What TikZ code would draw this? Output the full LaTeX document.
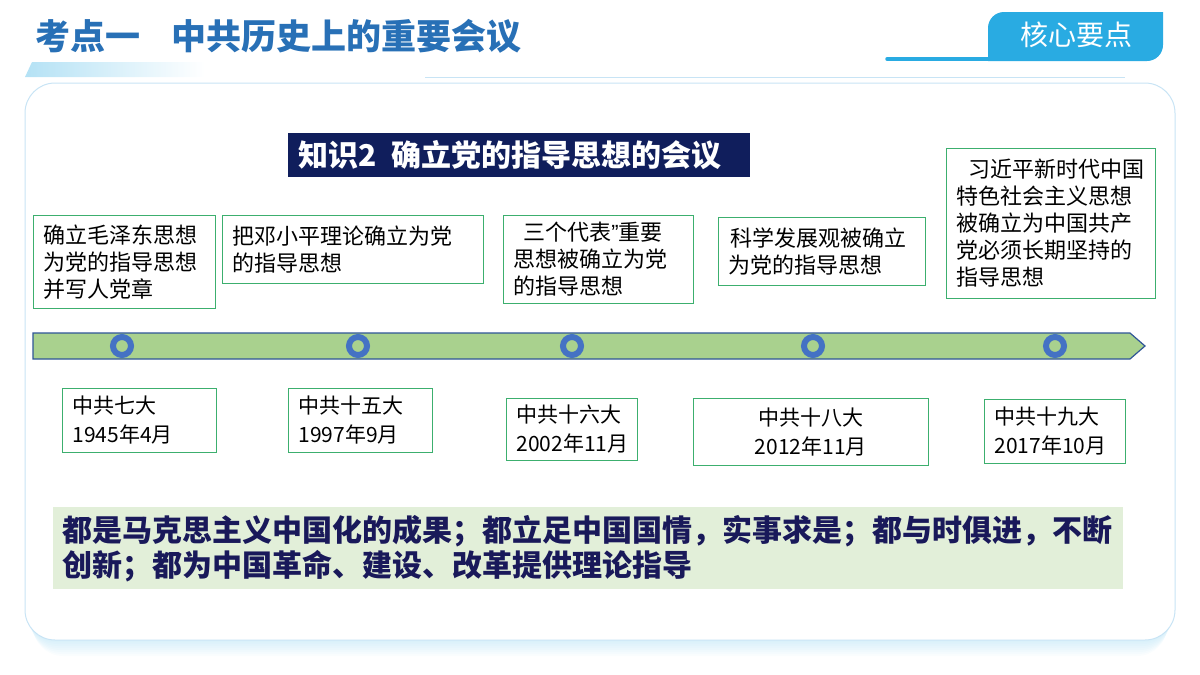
\documentclass[tikz,border=0pt]{standalone}
\usepackage{fontspec}
\newfontfamily\cjk{Noto Sans CJK SC}
\newfontfamily\latin{Liberation Sans}
\usepackage{tikz}
\usetikzlibrary{calc}

\definecolor{titleblue}{RGB}{40,112,182}
\definecolor{tabblue}{RGB}{41,171,226}
\definecolor{navy}{RGB}{16,30,92}
\definecolor{boxgreen}{RGB}{60,175,110}
\definecolor{tlgreen}{RGB}{169,209,142}
\definecolor{tlborder}{RGB}{47,85,151}
\definecolor{ringblue}{RGB}{68,114,196}
\definecolor{sumfill}{RGB}{226,239,217}
\definecolor{sumtext}{RGB}{25,25,90}
\definecolor{panelline}{RGB}{200,228,245}

\begin{document}
\begin{tikzpicture}[x=1pt,y=-1pt,
  upbox/.style={draw=boxgreen, line width=0.8pt, anchor=north west, align=left,
    inner xsep=10pt, inner ysep=0pt, font=\cjk\fontsize{22}{27}\selectfont},
  datebox/.style={draw=boxgreen, line width=0.8pt, anchor=north west,
    inner xsep=10pt, inner ysep=0pt, font=\cjk\fontsize{21}{29}\selectfont},
  ring/.style={circle, draw=ringblue, line width=6pt, fill=tlgreen,
    minimum size=18pt, inner sep=0pt}]
\useasboundingbox (0,0) rectangle (1200,675);

%%% HEADER
\node[anchor=west, text=titleblue, font=\cjk\bfseries\fontsize{35}{35}\selectfont]
  (title) at (32,36) {考点一\hspace{0.9em}中共历史上的重要会议};
\shade[left color=tabblue!35, right color=white]
  (32,62) -- (205,62) -- (205,77) -- (25,77) -- cycle;
\draw[panelline, line width=1pt] (425,77) -- (1125,77);

% tab at top right
\draw[tabblue, line width=3.5pt, line cap=round] (887,59) -- (995,59);
\fill[tabblue] (988,61) -- (988,28) arc (180:270:16) -- (1163,12)
  -- (1163,45) arc (0:90:16) -- cycle;
\node[text=white, font=\cjk\fontsize{28}{28}\selectfont] (tab) at (1076,35) {核心要点};

%%% PANEL
% soft shadow under the panel
\foreach \k in {1,...,8}
  \fill[tabblue, opacity=0.025, rounded corners=30]
    (25+\k,83+2*\k) rectangle (1175-\k,640+2*\k);
\draw[panelline, line width=1pt, fill=white, rounded corners=30] (25,83) rectangle (1175,640);

\node[anchor=north west, fill=navy, text=white, minimum width=462pt, minimum height=44pt,
  inner xsep=10pt, text width=442pt, align=left,
  font=\cjk\bfseries\fontsize{30}{30}\selectfont]
  (head) at (288,133) {知识2\hspace{0.5em}确立党的指导思想的会议};

%%% TIMELINE
\draw[tlborder, line width=1.2pt, fill=tlgreen]
  (33,333) -- (1130,333) -- (1145,346) -- (1130,359) -- (33,359) -- cycle;

% rings on the line
\foreach \x [count=\i] in {122,358,572,813,1055}
  \node[ring] (m\i) at (\x,346) {};

% what each meeting decided
\foreach \x/\y/\w/\h/\txt [count=\i] in {
  33/215/182/93/{确立毛泽东思想\\为党的指导思想\\并写人党章},
  222/215/261/68/{把邓小平理论确立为党\\的指导思想},
  503/215/190/88/{\hspace*{10pt}三个代表{\latin ”}重要\\思想被确立为党\\的指导思想},
  718/217/207/68/{\hspace*{2pt}科学发展观被确立\\为党的指导思想},
  946/148/209/150/{\hspace*{12pt}习近平新时代中国\\特色社会主义思想\\被确立为中国共产\\党必须长期坚持的\\指导思想}}
{
\pgfmathsetmacro{\tw}{\w-20}
\node[upbox, text width=\tw pt, minimum height=\h pt] (p\i) at (\x,\y) {\txt};
}

% meeting and date
\foreach \x/\y/\w/\h/\al/\txt [count=\i] in {
  62/388/154/64/left/{中共七大\\1945年4月},
  288/388/144/64/left/{中共十五大\\1997年9月},
  506/398/131/62/left/{中共十六大\\2002年11月},
  693/398/235/67/center/{中共十八大\\2012年11月},
  984/399/141/64/left/{中共十九大\\2017年10月}}
{
\pgfmathsetmacro{\tw}{\w-20}
\node[datebox, align=\al, text width=\tw pt, minimum height=\h pt] (d\i) at (\x,\y) {\txt};
}

%%% SUMMARY
\node[anchor=north west, fill=sumfill, text=sumtext, minimum width=1070pt, minimum height=82pt,
  inner xsep=9pt, inner ysep=0pt, text width=1052pt, align=left,
  font=\cjk\bfseries\fontsize{30}{35}\selectfont]
  (sum) at (53,507) {都是马克思主义中国化的成果；都立足中国国情，实事求是；都与时俱进，不断\\创新；都为中国革命、建设、改革提供理论指导};
\end{tikzpicture}
\end{document}
